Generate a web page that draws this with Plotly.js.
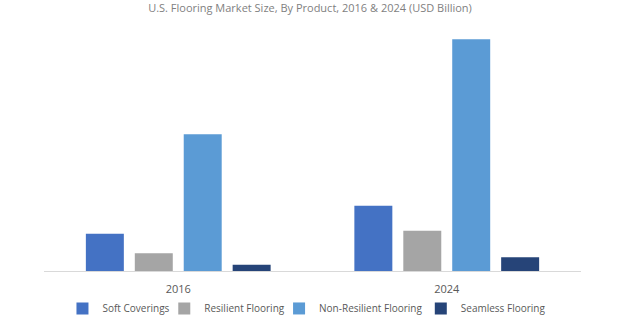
<!DOCTYPE html>
<html>
<head>
<meta charset="utf-8">
<script src="https://cdn.plot.ly/plotly-3.0.1.min.js"></script>
<style>html,body{margin:0;padding:0;background:#fff;}#chart{width:620px;height:315px;}</style>
</head>
<body>
<div id="chart"></div>
<script>
const years = ["2016", "2024"];
const seriesNames = ["Soft Coverings", "Resilient Flooring", "Non-Resilient Flooring", "Seamless Flooring"];
const softCoverings = [3.73, 6.53];
const resilientFlooring = [1.77, 4.03];
const nonResilientFlooring = [13.67, 23.17];
const seamlessFlooring = [0.63, 1.37];
const seriesColors = ["#4472C4", "#A5A5A5", "#5B9BD5", "#264478"];
const titleText = "U.S. Flooring Market Size, By Product, 2016 & 2024 (USD Billion)";

const values = [softCoverings, resilientFlooring, nonResilientFlooring, seamlessFlooring];
const legendIds = ["legend", "legend2", "legend3", "legend4"];
const traces = values.map((v, i) => ({
  type: "bar",
  x: years,
  y: v,
  name: seriesNames[i],
  marker: {color: seriesColors[i]},
  legend: legendIds[i],
  hoverinfo: "none"
}));

const plotLeft = 43.5, plotWidth = 538;
const legendLefts = [62, 164, 279, 421];
const legendBase = {
  orientation: "h",
  xanchor: "left",
  y: -0.207, yanchor: "bottom",
  font: {size: 10, color: "#595959"},
  itemwidth: 30,
  bgcolor: "rgba(0,0,0,0)"
};

const layout = {
  width: 620,
  height: 315,
  paper_bgcolor: "#ffffff",
  plot_bgcolor: "#ffffff",
  margin: {l: plotLeft, r: 620 - plotLeft - plotWidth, t: 20, b: 44, autoexpand: false},
  barmode: "group",
  bargap: 0.271,
  bargroupgap: 0.224,
  font: {family: "Open Sans, Arial, sans-serif", color: "#595959", size: 11},
  title: {
    text: titleText,
    font: {size: 11, color: "#7f7f7f"},
    x: 0.5, xanchor: "center",
    y: 0.985, yref: "container", yanchor: "top"
  },
  xaxis: {
    type: "category",
    showline: true,
    linecolor: "#d9d9d9",
    linewidth: 1,
    showgrid: false,
    zeroline: false,
    ticks: "",
    ticklabelstandoff: 8,
    tickfont: {size: 11, color: "#595959"},
    range: [-0.5, 1.5]
  },
  yaxis: {
    range: [0, 25.1],
    showgrid: false,
    zeroline: false,
    showline: false,
    showticklabels: false,
    ticks: ""
  },
  showlegend: true
};
legendIds.forEach((id, i) => {
  layout[id] = Object.assign({}, legendBase, {x: (legendLefts[i] - plotLeft) / plotWidth});
});

Plotly.newPlot("chart", traces, layout, {displayModeBar: false, staticPlot: true});
</script>
</body>
</html>
